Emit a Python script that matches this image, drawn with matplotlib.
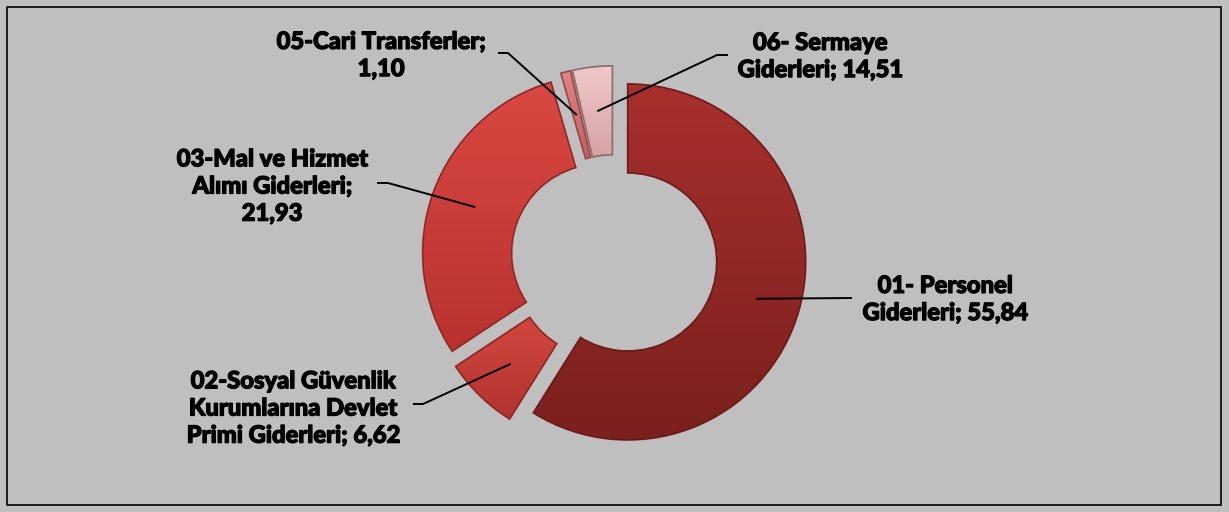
import numpy as np
import matplotlib
matplotlib.use("Agg")
import matplotlib.pyplot as plt
from matplotlib import font_manager
import matplotlib.patheffects as pe
from matplotlib.colors import LinearSegmentedColormap
from matplotlib.patches import Rectangle, Wedge

# ---- data -------------------------------------------------------------
categories = ["01- Personel\nGiderleri",
              "02-Sosyal Güvenlik\nKurumlarına Devlet\nPrimi Giderleri",
              "03-Mal ve Hizmet\nAlımı Giderleri",
              "05-Cari Transferler",
              "06- Sermaye\nGiderleri"]
label_values = [55.84, 6.62, 21.93, 1.10, 14.51]          # printed values
slice_shares = [58.9, 6.8, 29.8, 0.9, 3.6]                # drawn slice sizes
separators = ["; ", "; ", ";\n", ";\n", "; "]

top_colors = ["#A8302D", "#D2473F", "#DA4842", "#DE8585", "#F0C8C9"]
bottom_colors = ["#7A201E", "#B23430", "#B9322F", "#C25E5E", "#D6A2A4"]
edge_colors = ["#6A1B1A", "#8E2724", "#902724", "#9A4646", "#8A6A6B"]

# ---- layout (pixels) ----------------------------------------------------
W, H = 1229, 512
CX, CY, R = 614, 258, 178

def px(x, y):
    return (x - CX) / R, (CY - y) / R

text_pos = [(945, 299), (293, 408), (272, 186), (381, 55), (820, 56)]
elbows = [None, (423, 404), (388, 183), (508, 53), (717, 55)]
ends = [(852, 298), (413, 404), (377, 183), (498, 53), (728, 55)]

plt.rcParams['font.family'] = ['Lato', 'DejaVu Sans']

# heaviest installed Lato face
weights = [f.weight for f in font_manager.fontManager.ttflist if f.name == "Lato"]
def wnum(w):
    if isinstance(w, (int, float)):
        return int(w)
    return font_manager.weight_dict.get(w, 400)
heavy = max([wnum(w) for w in weights], default=700)

fig = plt.figure(figsize=(W / 100, H / 100), dpi=100, facecolor="#BFBFBF")
ax = fig.add_axes([0, 0, 1, 1])
ax.set_facecolor("#BFBFBF")

# font size chosen so that "05-Cari Transferler;" spans ~210 px as in the reference
renderer = fig.canvas.get_renderer()
probe = fig.text(0, 0, "05-Cari Transferler;", fontsize=14, fontweight=heavy)
pw = probe.get_window_extent(renderer).width
probe.remove()
fsize = 14 * 210.0 / pw
lspace = 29.0 / (fsize * 100 / 72)

wedges, _ = ax.pie(slice_shares, startangle=90, counterclock=False, radius=1.0,
                   explode=[0.08] * len(slice_shares),
                   colors=top_colors,
                   wedgeprops=dict(width=0.5, linewidth=0))

xlim = (-CX / R, (W - CX) / R)
ylim = (-(H - CY) / R, CY / R)

for i, w in enumerate(wedges):
    bb = w.get_path().get_extents()
    cmap = LinearSegmentedColormap.from_list("g%d" % i, [bottom_colors[i], top_colors[i]])
    grad = np.linspace(0, 1, 256).reshape(-1, 1)
    im = ax.imshow(grad, extent=[bb.x0, bb.x1, bb.y0, bb.y1], origin="lower",
                   cmap=cmap, aspect="auto", zorder=3, interpolation="bilinear")
    im.set_clip_path(w)
    outline = Wedge(w.center, w.r, w.theta1, w.theta2, width=w.width, fill=False,
                    edgecolor=edge_colors[i], linewidth=1.2, zorder=4)
    ax.add_patch(outline)

# labels and leader lines
for i, w in enumerate(wedges):
    mid = np.deg2rad((w.theta1 + w.theta2) / 2)
    ax_x = w.center[0] + 0.75 * np.cos(mid)
    ax_y = w.center[1] + 0.75 * np.sin(mid)
    pts = [(ax_x, ax_y)]
    if elbows[i] is not None:
        pts.append(px(*elbows[i]))
    pts.append(px(*ends[i]))
    pts = np.array(pts)
    ax.plot(pts[:, 0], pts[:, 1], color="black", linewidth=1.4, zorder=6,
            solid_capstyle="butt")
    txt = categories[i] + separators[i] + ("%.2f" % label_values[i]).replace(".", ",")
    tx, ty = px(*text_pos[i])
    ax.text(tx, ty, txt, ha="center", va="center", fontsize=fsize, fontweight=heavy,
            color="black", linespacing=lspace, zorder=7,
            path_effects=[pe.withStroke(linewidth=0.9, foreground="black")])

ax.set_xlim(*xlim)
ax.set_ylim(*ylim)
ax.set_aspect("auto")
ax.axis("off")

fig.add_artist(Rectangle((7 / W, 7 / H), (1221 - 7) / W, (505 - 7) / H,
                         transform=fig.transFigure, fill=False,
                         edgecolor="black", linewidth=1.2))

fig.savefig("out.png", dpi=100, facecolor=fig.get_facecolor())
